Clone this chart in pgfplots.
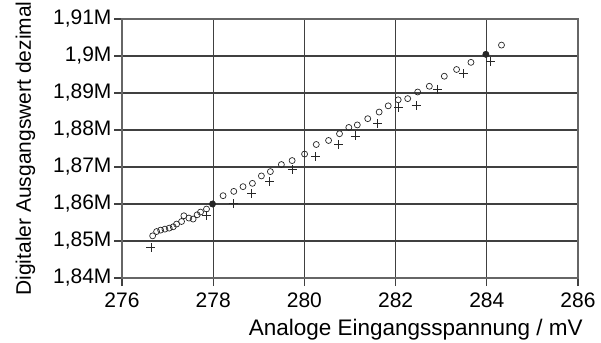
\documentclass[border=0pt]{standalone}
\usepackage{pgfplots}
\pgfplotsset{compat=1.18}
\usepackage{fontspec}
\setmainfont{Liberation Sans}
\begin{document}
\begin{tikzpicture}
\begin{axis}[
  scale only axis,
  width=456pt, height=259pt,
  xmin=276, xmax=286, ymin=1.84, ymax=1.91,
  xtick={276,278,280,282,284,286},
  xticklabels={276,278,280,282,284,286},
  ytick={1.84,1.85,1.86,1.87,1.88,1.89,1.90,1.91},
  yticklabels={{1,84M},{1,85M},{1,86M},{1,87M},{1,88M},{1,89M},{1,9M},{1,91M}},
  xtick pos=left, ytick pos=left,
  tick align=outside,
  major tick length=8pt,
  tick style={black!75, line width=1.2pt},
  grid=major,
  grid style={black!75, line width=1.3pt},
  axis line style={black!60, line width=1.3pt},
  ticklabel style={font=\fontsize{21}{25}\selectfont, text=black},
  yticklabel style={xshift=1pt},
  xticklabel style={yshift=-3pt},
  xlabel={Analoge Eingangsspannung / mV},
  ylabel={Digitaler Ausgangswert dezimal},
  xlabel style={at={(rel axis cs:1,0)}, anchor=north east, yshift=-41pt, xshift=5pt, inner sep=0pt, font=\fontsize{22.5}{26}\selectfont},
  ylabel style={at={(rel axis cs:0,0.5)}, anchor=base, yshift=91pt, inner sep=0pt, font=\fontsize{21}{25}\selectfont},
]
\addplot[only marks, mark=o, mark size=3pt, black!85, mark options={line width=0.7pt}] coordinates {
(276.672,1.85140) (276.759,1.85256) (276.847,1.85294) (276.941,1.85321)
(277.035,1.85348) (277.123,1.85384) (277.197,1.85457) (277.306,1.85527)
(277.357,1.85682) (277.466,1.85620) (277.560,1.85593) (277.648,1.85709)
(277.722,1.85782) (277.853,1.85864) (277.985,1.86000) (278.217,1.86225)
(278.451,1.86341) (278.654,1.86469) (278.860,1.86558) (279.057,1.86759)
(279.254,1.86876) (279.495,1.87066) (279.731,1.87174) (280.004,1.87350)
(280.260,1.87608) (280.530,1.87717) (280.770,1.87899) (280.974,1.88069)
(281.160,1.88137) (281.389,1.88306) (281.639,1.88485) (281.838,1.88653)
(282.057,1.88816) (282.265,1.88848) (282.484,1.89027) (282.740,1.89182)
(283.068,1.89453) (283.337,1.89635) (283.652,1.89828) (283.980,1.90045)
(284.322,1.90294)
};
\addplot[only marks, mark=+, mark size=4.5pt, black!85, mark options={line width=0.9pt}] coordinates {
(276.635,1.84822) (277.853,1.85682) (278.435,1.86008) (278.849,1.86279)
(279.239,1.86604) (279.742,1.86930) (280.245,1.87283) (280.748,1.87608)
(281.120,1.87839) (281.608,1.88164) (282.068,1.88620) (282.449,1.88666)
(282.921,1.89106) (283.495,1.89526) (284.085,1.89846)
};
\addplot[only marks, mark=*, mark size=3pt, black!85] coordinates {
(277.985,1.86000) (283.980,1.90045)
};
\end{axis}
\pgfresetboundingbox
\path[use as bounding box] ([xshift=-122pt,yshift=-64pt]current axis.south west) rectangle ([xshift=23pt,yshift=19pt]current axis.north east);
\end{tikzpicture}
\end{document}
